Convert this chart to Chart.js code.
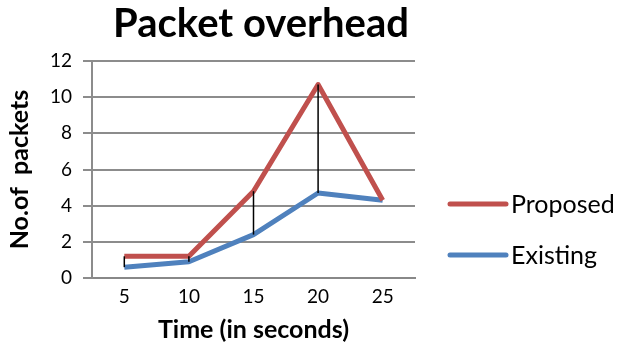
<!DOCTYPE html>
<html>
<head>
<meta charset="utf-8">
<script src="https://cdn.jsdelivr.net/npm/chart.js@4/dist/chart.umd.min.js"></script>
<style>
html,body{margin:0;padding:0;background:#fff;}
canvas{display:block;}
</style>
</head>
<body>
<canvas id="c" width="621" height="346"></canvas>
<script>
const categories = ['5', '10', '15', '20', '25'];
const proposed = [1.2, 1.2, 4.8, 10.7, 4.3];
const existing = [0.6, 0.9, 2.4, 4.7, 4.3];
const seriesNames = ['Proposed', 'Existing'];
const chartTitle = 'Packet overhead';
const xTitle = 'Time (in seconds)';
const yTitle = 'No.of  packets';

const FONT = 'Lato';
const RED = '#C0504D';
const BLUE = '#4F81BD';

const dropLines = {
  id: 'dropLines',
  afterDatasetsDraw(chart) {
    const {ctx} = chart;
    const y = chart.scales.y, x = chart.scales.x;
    ctx.save();
    ctx.strokeStyle = '#000';
    ctx.lineWidth = 1.5;
    for (let i = 0; i < categories.length; i++) {
      const px = x.getPixelForValue(i);
      ctx.beginPath();
      ctx.moveTo(px, y.getPixelForValue(proposed[i]));
      ctx.lineTo(px, y.getPixelForValue(existing[i]));
      ctx.stroke();
    }
    ctx.restore();
  }
};

const extras = {
  id: 'extras',
  afterDraw(chart) {
    const {ctx} = chart;
    ctx.save();
    ctx.fillStyle = '#000';
    ctx.textAlign = 'center';
    ctx.textBaseline = 'middle';
    ctx.font = 'bold 40px ' + FONT;
    ctx.fillText(chartTitle, 261, 24);
    // legend
    const ys = [204, 255];
    chart.data.datasets.forEach((ds, i) => {
      ctx.strokeStyle = ds.borderColor;
      ctx.lineWidth = 5;
      ctx.lineCap = 'round';
      ctx.beginPath();
      ctx.moveTo(450, ys[i]);
      ctx.lineTo(506, ys[i]);
      ctx.stroke();
      ctx.fillStyle = '#000';
      ctx.textAlign = 'left';
      ctx.font = '25px ' + FONT;
      ctx.fillText(ds.label, 511, ys[i] + 1);
    });
    ctx.restore();
  }
};

new Chart(document.getElementById('c'), {
  type: 'line',
  data: {
    labels: categories,
    datasets: [
      {label: seriesNames[0], data: proposed, borderColor: RED, backgroundColor: RED, borderWidth: 5, pointRadius: 0, tension: 0, borderJoinStyle: 'round'},
      {label: seriesNames[1], data: existing, borderColor: BLUE, backgroundColor: BLUE, borderWidth: 5, pointRadius: 0, tension: 0, borderJoinStyle: 'round'}
    ]
  },
  options: {
    responsive: false,
    animation: false,
    layout: {padding: {top: 61, right: 206, bottom: 0, left: 0}},
    plugins: {legend: {display: false}, title: {display: false}, tooltip: {enabled: false}},
    scales: {
      x: {
        offset: true,
        grid: {display: true, drawOnChartArea: false, drawTicks: false},
        border: {display: true, color: '#888', width: 2},
        ticks: {color: '#000', font: {family: FONT, size: 19}, padding: 7},
        title: {display: true, text: xTitle, color: '#000', font: {family: FONT, size: 25, weight: 'bold'}, padding: {top: 0, bottom: 1}},
        afterFit(s) { s.height = 68; }
      },
      y: {
        min: 0, max: 12,
        ticks: {stepSize: 2, color: '#000', font: {family: FONT, size: 19}, padding: 11},
        grid: {color: '#8c8c8c', lineWidth: 2, tickLength: 9},
        border: {display: true, color: '#8c8c8c', width: 2},
        title: {display: true, text: yTitle, color: '#000', font: {family: FONT, size: 25, weight: 'bold'}, padding: {top: 5, bottom: 0}},
        afterFit(s) { s.width = 92; }
      }
    }
  },
  plugins: [dropLines, extras]
});
</script>
</body>
</html>
